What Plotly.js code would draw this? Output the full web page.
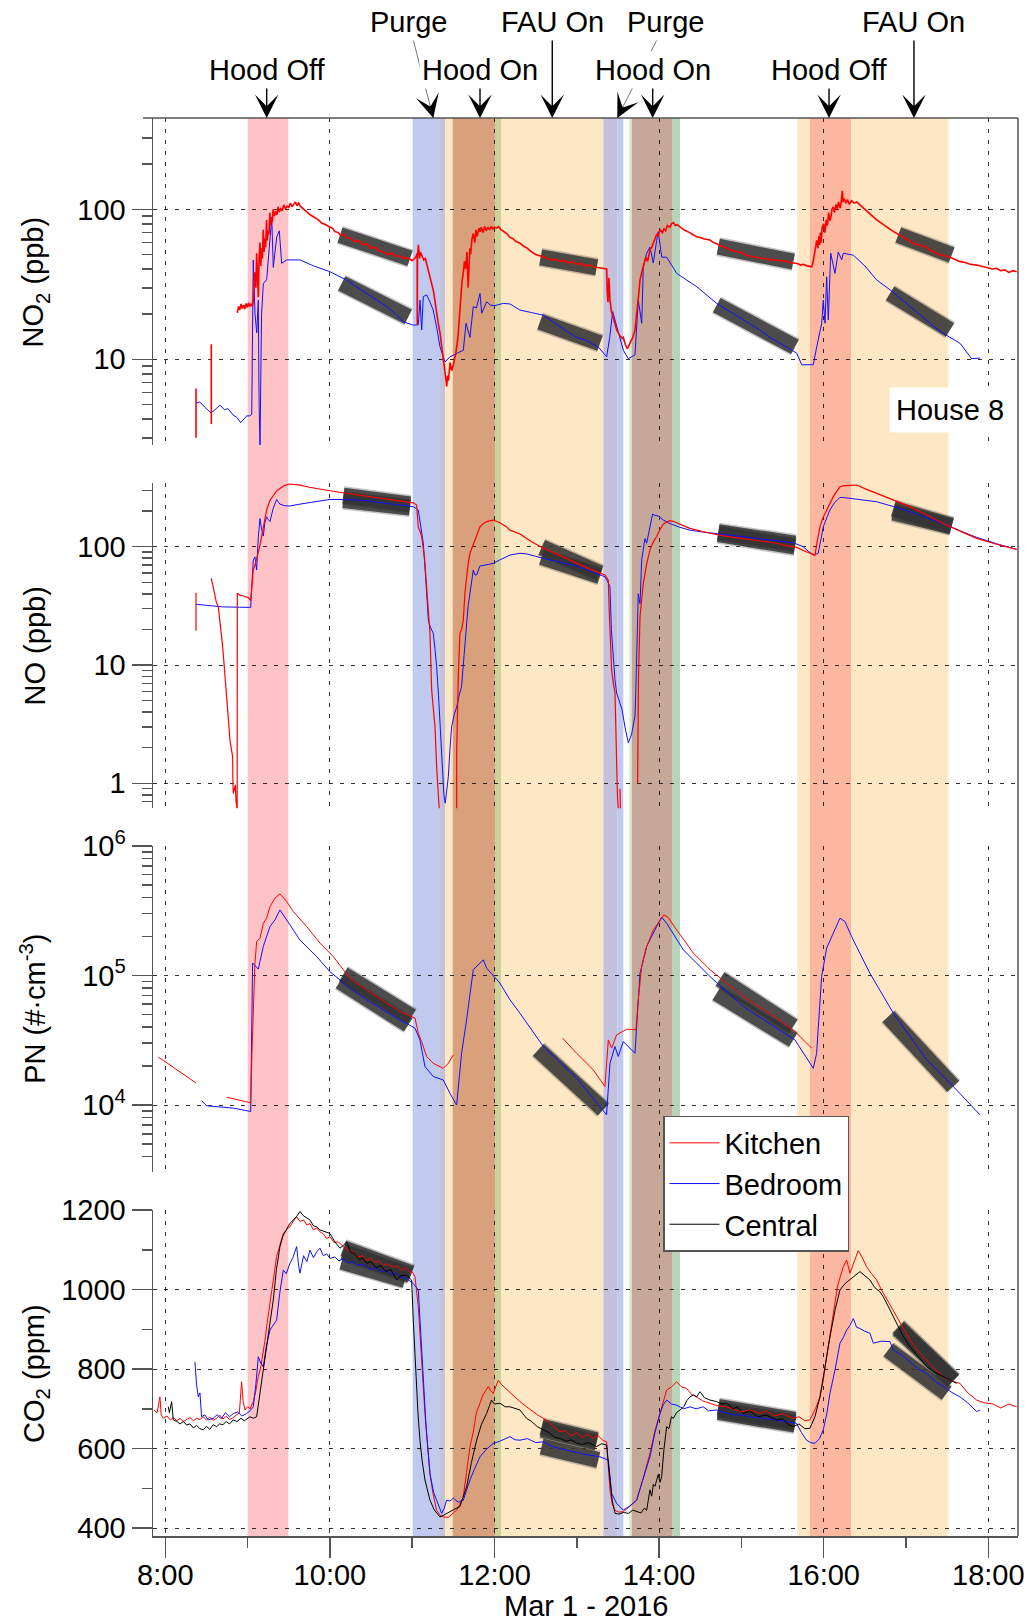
<!DOCTYPE html>
<html>
<head>
<meta charset="utf-8">
<script src="https://cdn.plot.ly/plotly-3.0.1.min.js"></script>
<style>html,body{margin:0;padding:0;background:#fff}#chart{width:1030px;height:1624px}</style>
</head>
<body>
<div id="chart"></div>
<script>
// ---------------- DATA ----------------
// time axis (decimal hours, Mar 1 2016)
const xTickVals = [8, 10, 12, 14, 16, 18];
const xTickText = ['8:00', '10:00', '12:00', '14:00', '16:00', '18:00'];
const xMinorVals = [9, 11, 13, 15, 17];

// y tick labels
const no2TickVals = [10, 100];
const no2TickText = ['10', '100'];
const no2MinorVals = [3,4,5,6,7,8,9,20,30,40,50,60,70,80,90,200,300];
const noTickVals = [1, 10, 100];
const noTickText = ['1', '10', '100'];
const noMinorVals = [0.7,0.8,0.9,2,3,4,5,6,7,8,9,20,30,40,50,60,70,80,90,200,300];
const pnTickVals = [1e4, 1e5, 1e6];
const pnTickText = ['10<sup>4</sup>', '10<sup>5</sup>', '10<sup>6</sup>'];
const pnMinorVals = [4e3,5e3,6e3,7e3,8e3,9e3,2e4,3e4,4e4,5e4,6e4,7e4,8e4,9e4,2e5,3e5,4e5,5e5,6e5,7e5,8e5,9e5];
const co2TickVals = [400, 600, 800, 1000, 1200];
const co2TickText = ['400', '600', '800', '1000', '1200'];
const co2MinorVals = [500, 700, 900, 1100];

// event periods (shaded visible segments)
const bandStart = [9.001, 11.006, 11.338, 11.399, 11.492, 12.006, 12.079, 13.322, 13.497, 13.638, 13.667, 14.165, 15.679, 15.833, 16.332];
const bandEnd   = [9.495, 11.338, 11.399, 11.492, 12.006, 12.079, 13.322, 13.497, 13.565, 13.667, 14.165, 14.254, 15.833, 16.332, 17.514];
const bandColor = ['#fdc3c7', '#c0c9ee', '#c5c1d9', '#fde7c4', '#d8a17c', '#ccd29c', '#fde7c4', '#c3c1db', '#c0caf0', '#d6ead6', '#c6a898', '#b3d7b8', '#fde7c4', '#fcb7a1', '#fde7c4'];

// event labels
const eventLabels = ['Hood Off', 'Purge', 'Hood On', 'FAU On', 'Purge', 'Hood On', 'Hood Off', 'FAU On'];
const eventTimes  = [9.232, 11.256, 11.824, 12.702, 13.492, 13.922, 16.065, 17.097];

// ---- NO2 (ppb)
const no2Kitchen = [[8.373,6.4],[8.373,3.0],[8.374,null],
[8.559,12.6],[8.559,3.7],[8.56,null],
[8.875,20.4],[8.89,22.5],[8.905,21.3],[8.92,23.4],[8.935,21.8],[8.95,23],[8.965,21.6],[8.98,23.6],[8.995,22.2],[9.01,23.8],[9.025,22.4],[9.04,23.5],[9.055,22.6],[9.07,24.5],
[9.085,38],[9.1,30],[9.11,51],[9.12,40],[9.13,26],[9.14,48],[9.15,60],[9.16,42],[9.17,55],[9.18,47],[9.19,73],[9.2,52],[9.21,64],[9.22,56],[9.23,85],[9.24,62],[9.25,72],[9.26,68],[9.27,95],[9.28,78],[9.29,88],[9.3,82],[9.31,100],[9.325,90],[9.34,97],[9.355,92],[9.37,104],[9.385,96],[9.4,101],[9.42,98],[9.44,107],[9.46,101],[9.48,105],[9.5,103],[9.52,110],[9.54,104],[9.56,109],[9.58,112],[9.6,106],[9.62,110],[9.64,105],
[9.67,101],[9.7,98],[9.73,95],[9.76,92],[9.8,89],[9.83,86],[9.86,85],[9.9,81],[9.95,79],[10.0,76],[10.03,75],[10.06,71],[10.1,70],[10.13,67],[10.17,68],[10.2,65],[10.25,64],[10.3,61],[10.35,62],[10.4,58],[10.45,59],[10.5,55],[10.55,56],[10.6,53],[10.65,52],[10.7,50],[10.75,51],[10.8,48.5],[10.85,49],[10.9,47],[10.95,47.5],[11.0,45.5],[11.03,47],[11.05,49],
[11.06,51],[11.062,17],[11.064,48],[11.075,58],[11.09,47],[11.1,52],[11.12,49],[11.14,46],[11.16,47],[11.18,43],[11.2,38],[11.23,33],[11.256,29],[11.28,23],[11.3,20],[11.32,17],[11.338,15],[11.36,12],[11.38,10],[11.4,8.5],[11.41,7.2],[11.42,6.6],[11.43,7.8],[11.44,7.2],[11.46,9.5],[11.48,8.4],[11.5,9.2],[11.53,11],[11.556,14],[11.575,20],[11.59,26],[11.605,33],[11.62,37.6],[11.635,45],[11.65,40],[11.665,52],[11.68,30],[11.69,48],[11.7,55],[11.71,50],[11.725,63],[11.742,69],[11.76,60],[11.775,73],[11.79,66],[11.81,75],[11.824,71],[11.84,76],[11.86,70],[11.88,77],[11.9,72],[11.92,76],[11.94,73],[11.96,77],[11.98,74],[12.0,76],[12.027,75],[12.05,77],[12.08,73],[12.1,72],[12.13,70],[12.16,68],[12.188,65],[12.22,64],[12.26,61],[12.31,59.5],[12.35,57],[12.4,55],[12.45,52],[12.5,50],[12.55,49],[12.6,48],[12.65,47.5],[12.7,46],[12.75,46.5],[12.8,45],[12.85,45.5],[12.9,44],[12.95,44.5],[13.0,43],[13.05,43.5],[13.1,42],[13.15,42.5],[13.2,41.4],[13.25,41],[13.3,40.5],[13.34,40],[13.363,40],[13.37,28],[13.379,24],[13.39,35],[13.403,25],[13.42,21],[13.44,19],[13.46,17],[13.485,15.7],[13.52,14.5],[13.55,13.8],[13.565,14],[13.59,12.5],[13.614,11.8],[13.63,12.2],[13.65,13],[13.68,14],[13.707,15.7],[13.725,19],[13.74,22],[13.755,28],[13.768,33.8],[13.785,38],[13.8,40],[13.82,44],[13.84,48],[13.86,45],[13.889,53.5],[13.91,56],[13.93,60],[13.95,63],[13.97,68],[13.99,66],[14.011,73.5],[14.04,70],[14.06,74],[14.08,72],[14.1,78],[14.13,76],[14.15,80],[14.172,81.5],[14.2,78],[14.22,79],[14.254,76.5],[14.3,73],[14.35,71],[14.4,68],[14.45,66],[14.5,65],[14.55,63.5],[14.618,62.4],[14.66,60],[14.7,59],[14.75,57],[14.8,56],[14.85,54],[14.9,53],[14.95,52],[15.023,51],[15.06,49.5],[15.1,49],[15.15,48.5],[15.2,48],[15.25,47],[15.3,47],[15.35,46],[15.429,45.9],[15.5,45.5],[15.55,45],[15.6,44],[15.672,43.7],[15.72,42.5],[15.75,43],[15.8,42],[15.854,41.4],[15.87,44],[15.88,48],[15.9,55],[15.915,62],[15.93,55],[15.94,66],[15.95,58],[15.96,70],[15.97,60],[15.98,75],[16.0,80],[16.015,70],[16.03,85],[16.045,78],[16.06,95],[16.075,84],[16.09,90],[16.1,100],[16.117,104],[16.13,95],[16.15,108],[16.165,100],[16.18,112],[16.2,102],[16.215,115],[16.226,133],[16.235,112],[16.25,118],[16.27,110],[16.29,116],[16.31,108],[16.34,114],[16.37,110],[16.401,112],[16.45,106],[16.5,100],[16.55,95],[16.6,89],[16.644,85],[16.7,81],[16.75,77],[16.8,74],[16.85,71],[16.887,69],[16.95,66],[17.0,63],[17.05,61],[17.1,59],[17.15,58],[17.2,57],[17.251,56],[17.3,53],[17.35,52],[17.4,50],[17.45,49],[17.5,48.5],[17.535,48],[17.6,46],[17.65,45],[17.7,44.5],[17.78,43],[17.859,42.5],[17.93,41.5],[18.0,41],[18.05,40],[18.1,40.5],[18.15,39],[18.2,39.5],[18.25,38],[18.3,39],[18.345,38.4]];

const no2Bedroom = [[8.373,5.09],[8.42,5.2],[8.48,4.8],[8.555,4.39],[8.6,4.6],[8.665,4.95],[8.72,4.6],[8.76,4.7],[8.823,4.26],[8.87,4.1],[8.916,3.78],[8.95,4.0],[8.989,4.2],[9.029,4.2],[9.05,4.3],[9.069,46],[9.09,20],[9.111,15],[9.13,24.8],[9.14,5],[9.151,2.68],[9.17,20],[9.191,32],[9.232,34],[9.25,46],[9.293,89],[9.312,41],[9.354,65.6],[9.385,72],[9.414,43.7],[9.475,46],[9.637,46],[9.8,42],[10.0,38.4],[10.1,36],[10.204,33.8],[10.3,31],[10.447,27.5],[10.55,25],[10.69,22.5],[10.8,20],[10.892,17.8],[11.013,16.9],[11.074,17],[11.095,24.8],[11.115,15.7],[11.135,26.2],[11.176,26.9],[11.21,24.5],[11.256,21.3],[11.3,16],[11.338,12.1],[11.399,9.6],[11.459,10.4],[11.55,11],[11.621,11.5],[11.654,17.4],[11.702,14],[11.742,22.5],[11.78,22],[11.824,27.5],[11.844,20.3],[11.905,24.2],[11.95,23],[12.0,22.8],[12.107,23.6],[12.188,23.4],[12.31,21.3],[12.45,20.5],[12.593,19.7],[12.796,16.5],[12.999,14],[13.1,13.5],[13.261,12.1],[13.363,10.4],[13.4,14],[13.436,20.8],[13.504,14.9],[13.565,11.5],[13.626,10.1],[13.707,10.7],[13.747,24.8],[13.789,17.4],[13.808,41],[13.849,51],[13.889,56],[13.929,44],[13.971,62],[13.99,70.8],[14.032,48],[14.092,48],[14.214,37.4],[14.457,30.5],[14.7,23.6],[15.023,18.3],[15.2,16],[15.348,14],[15.5,12.5],[15.672,11],[15.733,9.2],[15.874,9.2],[15.915,12.1],[15.976,17.4],[15.995,24.8],[16.016,17.4],[16.036,35.5],[16.056,18.3],[16.085,51],[16.137,37.4],[16.177,52],[16.219,46],[16.238,51],[16.36,49.5],[16.5,42],[16.644,33.8],[16.806,29.1],[17.049,22.5],[17.292,17.4],[17.453,14.9],[17.656,12.8],[17.798,10.1],[17.899,10.2]];

// ---- NO (ppb)
const noKitchen = [[8.373,40.8],[8.373,19.5],[8.374,null],
[8.559,54],[8.58,45],[8.603,36.6],[8.62,34],[8.644,31],[8.67,22],[8.697,14.3],[8.72,9],[8.745,5.8],[8.765,3.6],[8.786,2.3],[8.8,2.0],[8.818,1.68],[8.822,1.0],[8.826,0.82],[8.84,0.9],[8.851,0.97],[8.86,0.7],[8.867,0.6],[8.873,0.6],[8.875,40.4],[8.907,39],[8.94,38.5],[8.988,37.6],[9.01,37],[9.037,35],[9.049,46],[9.069,63.5],[9.09,70],[9.11,82],[9.13,90],[9.15,103],[9.17,120],[9.191,147],[9.21,170],[9.231,204],[9.27,245],[9.312,274],[9.35,295],[9.393,311],[9.45,330],[9.515,339],[9.57,336],[9.636,332],[9.75,318],[9.85,308],[10.001,297],[10.2,283],[10.446,268],[10.7,252],[10.85,243],[11.013,235],[11.054,225],[11.074,147],[11.095,135],[11.115,122],[11.15,80],[11.175,46],[11.2,28],[11.216,18.5],[11.236,6.2],[11.256,4.4],[11.277,3.0],[11.297,1.38],[11.315,0.9],[11.329,0.6],[11.33,null],
[11.54,0.6],[11.541,1.9],[11.56,8],[11.58,18.5],[11.6,20],[11.621,24],[11.64,40],[11.661,59.6],[11.68,72],[11.702,88],[11.72,95],[11.742,107],[11.78,125],[11.823,147],[11.86,156],[11.904,163],[11.95,166],[11.985,168],[12.06,160],[12.147,147],[12.188,138],[12.309,128],[12.45,110],[12.593,97],[12.8,84],[12.998,72.3],[13.15,65],[13.342,57.7],[13.383,52],[13.393,30],[13.403,18.5],[13.413,12],[13.423,9.1],[13.444,7],[13.464,5.8],[13.474,3],[13.484,1.2],[13.494,0.8],[13.504,0.6],[13.505,null],[13.525,0.9],[13.53,0.6],[13.531,null],
[13.739,1.0],[13.75,8],[13.768,25.6],[13.788,38],[13.808,49],[13.85,72],[13.889,94],[13.93,110],[13.97,122],[14.011,140],[14.051,155],[14.09,162],[14.132,166],[14.17,164],[14.213,160],[14.3,150],[14.375,143],[14.5,136],[14.618,130],[14.8,123],[15.023,117.6],[15.2,112],[15.428,107],[15.55,102],[15.671,98.7],[15.75,93],[15.833,88],[15.894,85],[15.92,110],[15.955,147],[15.99,175],[16.036,204],[16.08,235],[16.117,265],[16.16,295],[16.198,321],[16.25,328],[16.3,330],[16.4,332],[16.5,310],[16.643,282],[16.85,248],[17.048,218],[17.25,186],[17.453,157],[17.65,136],[17.858,117.6],[18.1,105],[18.344,95]];

const noBedroom = [[8.373,32.6],[8.5,31.8],[8.697,31],[8.9,30.8],[9.037,30.7],[9.05,45],[9.069,77],[9.089,82],[9.1,70],[9.11,63.5],[9.13,120],[9.15,173],[9.17,140],[9.191,123],[9.21,160],[9.231,179],[9.25,170],[9.272,163],[9.31,210],[9.353,251],[9.37,240],[9.393,229],[9.45,222],[9.515,221],[9.65,230],[9.798,240],[10.001,251],[10.2,250],[10.446,245],[10.7,232],[11.013,218],[11.074,204],[11.1,160],[11.135,107],[11.16,60],[11.196,24],[11.22,21],[11.256,18.5],[11.28,13],[11.297,9.7],[11.32,5.5],[11.337,3.4],[11.355,1.8],[11.37,1.14],[11.385,0.8],[11.402,0.68],[11.42,0.85],[11.439,1.14],[11.46,2],[11.479,3.0],[11.51,3.8],[11.54,4.4],[11.57,5.5],[11.6,6.6],[11.63,12],[11.661,24],[11.68,32],[11.702,40.4],[11.742,63.5],[11.76,58],[11.783,57.7],[11.823,68.7],[11.9,70],[11.985,72.3],[12.06,77],[12.147,82],[12.188,85],[12.309,88],[12.39,87],[12.5,83],[12.593,79.6],[12.8,74],[12.998,68.7],[13.17,62],[13.342,55.7],[13.38,50],[13.403,46],[13.42,20],[13.444,11],[13.464,7.5],[13.484,5.8],[13.525,4.7],[13.55,4.2],[13.585,3.0],[13.626,2.2],[13.666,2.6],[13.707,3.7],[13.717,6],[13.727,11],[13.737,25],[13.747,40],[13.757,36],[13.768,33],[13.788,77],[13.808,100],[13.828,117],[13.849,107],[13.87,125],[13.889,147],[13.905,170],[13.921,189],[13.95,184],[13.99,182],[14.051,168],[14.132,157],[14.25,146],[14.375,138],[14.5,134],[14.618,131],[14.8,127],[15.023,123],[15.3,115],[15.63,108],[15.69,104],[15.752,100],[15.81,92],[15.874,85],[15.934,88],[15.96,110],[15.995,147],[16.036,175],[16.076,204],[16.13,235],[16.198,261],[16.25,260],[16.319,256],[16.45,250],[16.643,240],[16.85,218],[17.048,198],[17.25,176],[17.453,157],[17.65,137],[17.858,120],[18.1,106],[18.344,95]];

// ---- PN (#/cm3)
const pnKitchen = [[7.915,2.34e4],[7.976,2.21e4],[8.373,1.48e4],[8.374,null],
[8.745,1.15e4],[9.037,1.04e4],[9.053,2.51e4],[9.069,4.55e4],[9.089,1.25e5],[9.11,1.83e5],[9.15,1.94e5],[9.191,2.53e5],[9.231,2.77e5],[9.272,3.41e5],[9.333,3.96e5],[9.393,4.27e5],[9.474,3.73e5],[9.555,3.12e5],[9.717,2.39e5],[9.879,1.78e5],[10.041,1.40e5],[10.244,9.5e4],[10.446,7.74e4],[10.851,5.27e4],[11.034,4.69e4],[11.074,3.59e4],[11.115,3.09e4],[11.175,2.37e4],[11.256,2.1e4],[11.378,1.92e4],[11.439,2.1e4],[11.499,2.44e4],[11.5,null],
[12.828,3.28e4],[12.998,2.51e4],[13.2,1.87e4],[13.342,1.39e4],[13.383,3.18e4],[13.423,2.75e4],[13.484,3.48e4],[13.606,3.85e4],[13.719,3.81e4],[13.747,6.49e4],[13.788,1.17e5],[13.849,1.67e5],[13.93,2.25e5],[14.011,2.69e5],[14.059,2.94e5],[14.112,2.8e5],[14.213,2.25e5],[14.416,1.49e5],[14.618,1.11e5],[14.821,8.73e4],[15.023,6.88e4],[15.428,4.69e4],[15.63,3.81e4],[15.853,2.75e4]];

const pnBedroom = [[8.441,1.08e4],[8.502,9.87e3],[8.826,9.46e3],[9.037,8.92e3],[9.061,1.25e5],[9.11,1.14e5],[9.13,1.12e5],[9.191,1.68e5],[9.272,2.39e5],[9.333,2.69e5],[9.393,3.21e5],[9.474,2.69e5],[9.636,1.88e5],[9.839,1.40e5],[10.001,1.07e5],[10.244,7.98e4],[10.446,6.49e4],[10.851,4.55e4],[11.034,3.92e4],[11.094,3.18e4],[11.155,1.98e4],[11.256,1.66e4],[11.378,1.56e4],[11.459,1.23e4],[11.54,1.0e4],[11.6,2.51e4],[11.661,4.55e4],[11.742,1.11e5],[11.864,1.32e5],[11.904,1.14e5],[12.066,8.73e4],[12.188,6.49e4],[12.309,5.12e4],[12.593,2.83e4],[12.998,1.61e4],[13.362,8.4e3],[13.403,2.1e4],[13.464,2.83e4],[13.504,2.37e4],[13.565,3.09e4],[13.707,2.51e4],[13.768,1.04e5],[13.849,1.68e5],[13.97,2.39e5],[14.031,2.82e5],[14.092,2.53e5],[14.294,1.58e5],[14.618,9.82e4],[15.023,5.77e4],[15.651,3.18e4],[15.874,1.92e4],[15.914,2.51e4],[15.975,9.82e4],[16.036,1.63e5],[16.157,2.39e5],[16.198,2.77e5],[16.258,2.61e5],[16.359,1.88e5],[16.562,1.04e5],[16.846,5.12e4],[17.251,2.24e4],[17.575,1.39e4],[17.899,8.4e3]];

// ---- CO2 (ppm)
const co2Kitchen = [[7.862,697],[7.9,690],[7.935,730],[7.95,685],[7.976,676],[8.02,682],[8.06,672],[8.097,678],[8.14,670],[8.18,676],[8.22,668],[8.259,673],[8.3,678],[8.34,670],[8.38,676],[8.421,673],[8.46,680],[8.5,672],[8.54,679],[8.58,671],[8.624,676],[8.66,684],[8.7,674],[8.74,681],[8.78,673],[8.826,678],[8.87,684],[8.9,690],[8.927,768],[8.945,720],[8.968,697],[9.0,705],[9.03,700],[9.069,718],[9.1,745],[9.13,781],[9.16,805],[9.191,839],[9.21,870],[9.231,906],[9.26,950],[9.292,999],[9.32,1040],[9.353,1083],[9.39,1110],[9.434,1141],[9.47,1150],[9.515,1158],[9.55,1170],[9.596,1183],[9.636,1171],[9.68,1175],[9.72,1162],[9.758,1166],[9.8,1150],[9.84,1155],[9.879,1145],[9.92,1140],[9.96,1128],[10.001,1133],[10.05,1118],[10.1,1120],[10.163,1108],[10.22,1100],[10.28,1095],[10.34,1082],[10.4,1085],[10.446,1074],[10.5,1078],[10.55,1068],[10.6,1072],[10.65,1060],[10.7,1065],[10.77,1056],[10.82,1060],[10.87,1048],[10.92,1055],[10.973,1042],[11.0,1045],[11.034,1032],[11.074,957],[11.115,806],[11.155,688],[11.19,600],[11.216,537],[11.25,490],[11.297,445],[11.34,432],[11.378,428],[11.439,427],[11.49,435],[11.54,445],[11.58,460],[11.621,479],[11.66,540],[11.702,604],[11.74,640],[11.78,690],[11.823,714],[11.86,735],[11.924,756],[11.955,745],[11.985,739],[12.02,760],[12.046,772],[12.09,760],[12.14,750],[12.188,741],[12.25,728],[12.309,718],[12.39,705],[12.45,695],[12.52,685],[12.593,676],[12.65,668],[12.72,655],[12.796,642],[12.86,645],[12.93,632],[13.0,640],[13.06,628],[13.13,636],[13.2,626],[13.26,632],[13.32,620],[13.362,617],[13.383,560],[13.403,496],[13.43,460],[13.464,445],[13.51,440],[13.565,441],[13.63,452],[13.727,470],[13.8,520],[13.85,555],[13.889,588],[13.95,645],[14.011,688],[14.05,720],[14.092,747],[14.15,755],[14.213,768],[14.27,755],[14.335,751],[14.4,735],[14.456,730],[14.53,720],[14.618,714],[14.7,708],[14.821,705],[14.9,700],[15.0,692],[15.1,697],[15.226,688],[15.3,695],[15.4,682],[15.5,688],[15.63,676],[15.7,680],[15.77,670],[15.833,672],[15.9,700],[15.955,730],[15.995,772],[16.05,850],[16.117,940],[16.17,1010],[16.238,1057],[16.279,1074],[16.319,1041],[16.37,1070],[16.42,1098],[16.47,1080],[16.522,1057],[16.58,1040],[16.643,1024],[16.7,1000],[16.77,975],[16.846,948],[16.95,910],[17.048,873],[17.15,845],[17.251,823],[17.35,800],[17.453,781],[17.55,770],[17.656,764],[17.75,740],[17.858,722],[17.95,715],[18.061,712],[18.15,702],[18.25,712],[18.344,705]];

const co2Bedroom = [[8.36,818],[8.38,760],[8.401,730],[8.421,740],[8.441,680],[8.48,685],[8.52,672],[8.583,676],[8.63,685],[8.68,675],[8.73,690],[8.78,680],[8.826,688],[8.88,692],[8.93,682],[8.988,688],[9.03,695],[9.069,705],[9.1,760],[9.13,831],[9.16,815],[9.191,806],[9.23,860],[9.272,898],[9.31,910],[9.353,923],[9.39,990],[9.434,1049],[9.47,1040],[9.515,1066],[9.55,1080],[9.596,1108],[9.62,1060],[9.636,1041],[9.68,1085],[9.72,1070],[9.758,1099],[9.8,1080],[9.84,1095],[9.879,1104],[9.92,1085],[9.96,1090],[10.001,1078],[10.06,1082],[10.11,1072],[10.163,1078],[10.22,1066],[10.28,1070],[10.34,1060],[10.4,1064],[10.446,1057],[10.5,1050],[10.56,1055],[10.62,1045],[10.68,1048],[10.75,1038],[10.8,1042],[10.851,1032],[10.93,1028],[11.013,1015],[11.074,999],[11.1,900],[11.135,772],[11.17,650],[11.216,537],[11.26,490],[11.297,470],[11.33,450],[11.358,437],[11.39,450],[11.418,470],[11.46,468],[11.499,475],[11.56,465],[11.621,470],[11.66,495],[11.702,521],[11.76,550],[11.823,579],[11.9,598],[11.985,613],[12.06,618],[12.147,626],[12.188,630],[12.25,622],[12.309,621],[12.4,625],[12.5,615],[12.593,617],[12.7,605],[12.8,600],[12.9,595],[12.998,592],[13.1,585],[13.2,582],[13.282,579],[13.383,571],[13.423,487],[13.484,462],[13.52,455],[13.565,445],[13.64,455],[13.727,470],[13.8,520],[13.889,579],[13.95,640],[14.011,688],[14.05,710],[14.092,722],[14.15,712],[14.213,709],[14.3,700],[14.375,705],[14.45,700],[14.537,705],[14.6,695],[14.699,697],[14.8,690],[14.9,685],[15.023,684],[15.15,678],[15.3,675],[15.428,672],[15.55,668],[15.671,663],[15.73,640],[15.792,621],[15.84,615],[15.894,613],[15.95,625],[15.995,647],[16.04,690],[16.076,739],[16.14,800],[16.198,865],[16.24,880],[16.279,898],[16.32,910],[16.36,927],[16.4,905],[16.44,902],[16.5,895],[16.562,890],[16.603,865],[16.7,870],[16.805,869],[16.846,848],[16.95,835],[17.048,818],[17.15,800],[17.251,789],[17.35,770],[17.453,756],[17.55,742],[17.656,730],[17.75,715],[17.858,693],[17.9,697]];

const co2Central = [[8.036,705],[8.05,690],[8.077,718],[8.097,672],[8.14,668],[8.18,662],[8.22,668],[8.259,659],[8.3,662],[8.34,652],[8.38,658],[8.42,650],[8.462,647],[8.5,656],[8.54,648],[8.583,660],[8.624,655],[8.66,662],[8.7,660],[8.74,668],[8.78,662],[8.826,672],[8.87,668],[8.92,676],[8.96,670],[9.029,680],[9.07,676],[9.11,680],[9.15,739],[9.19,800],[9.231,856],[9.27,920],[9.312,974],[9.35,1050],[9.393,1108],[9.43,1135],[9.474,1150],[9.51,1165],[9.555,1175],[9.6,1185],[9.636,1196],[9.68,1185],[9.72,1180],[9.758,1175],[9.8,1160],[9.84,1158],[9.879,1150],[9.94,1145],[10.001,1141],[10.06,1120],[10.122,1104],[10.16,1110],[10.203,1120],[10.25,1095],[10.3,1090],[10.36,1075],[10.4,1080],[10.446,1066],[10.5,1070],[10.56,1055],[10.62,1060],[10.68,1045],[10.74,1050],[10.811,1024],[10.86,1035],[10.932,1036],[10.993,1024],[11.013,923],[11.046,772],[11.07,690],[11.094,621],[11.12,570],[11.155,521],[11.216,470],[11.27,445],[11.337,428],[11.38,432],[11.418,437],[11.5,446],[11.58,454],[11.62,478],[11.661,504],[11.72,565],[11.783,621],[11.84,660],[11.904,688],[11.964,722],[12.0,712],[12.066,714],[12.13,705],[12.188,705],[12.25,700],[12.309,697],[12.39,676],[12.45,668],[12.52,655],[12.593,647],[12.66,640],[12.73,628],[12.8,625],[12.87,618],[12.93,622],[12.998,613],[13.07,610],[13.14,615],[13.241,605],[13.3,612],[13.362,609],[13.383,565],[13.403,521],[13.43,470],[13.464,437],[13.51,435],[13.565,439],[13.63,437],[13.68,445],[13.727,441],[13.78,438],[13.82,450],[13.849,445],[13.869,470],[13.889,496],[13.91,480],[13.93,510],[13.95,505],[13.97,521],[13.99,535],[14.011,515],[14.031,529],[14.06,600],[14.092,655],[14.12,650],[14.15,680],[14.173,676],[14.21,690],[14.254,697],[14.3,705],[14.335,720],[14.375,730],[14.42,735],[14.456,730],[14.497,743],[14.55,728],[14.618,722],[14.7,718],[14.76,712],[14.821,714],[14.9,700],[14.95,705],[15.023,688],[15.1,695],[15.2,680],[15.3,684],[15.428,672],[15.5,675],[15.57,660],[15.63,655],[15.7,662],[15.77,650],[15.833,651],[15.894,680],[15.955,730],[16.0,790],[16.076,881],[16.14,950],[16.198,999],[16.26,1015],[16.319,1024],[16.38,1035],[16.44,1045],[16.5,1035],[16.562,1024],[16.62,1005],[16.68,995],[16.724,982],[16.8,950],[16.886,915],[16.96,885],[17.048,856],[17.15,830],[17.251,806],[17.35,792],[17.453,781],[17.53,772],[17.615,764]];

// ---- decay fits (start/end points of each fitted segment)
const no2Fits = [
  [[10.123,67.4],[10.974,47.1]], [[10.143,32.1],[10.953,19.2]],
  [[12.561,47.9],[13.242,41.0]], [[12.553,17.8],[13.282,12.8]],
  [[14.719,56.4],[15.631,44.8]], [[14.70,23.0],[15.186,16.1],[15.651,12.1]],
  [[16.906,67.4],[17.555,49.6]], [[16.806,27.5],[17.535,15.7]]
];
const noFits = [
  [[10.163,270],[10.973,228]], [[10.163,248],[10.973,214]],
  [[12.573,98.7],[13.282,59.6]], [[12.573,82],[13.282,56.5]],
  [[14.719,128],[15.651,100]], [[14.719,133],[15.651,106]],
  [[16.846,210],[17.554,150]], [[16.846,195],[17.554,148]]
];
const pnFits = [
  [[10.163,1.02e5],[10.994,4.82e4]], [[10.123,9.0e4],[10.953,4.16e4]],
  [[12.532,2.67e4],[13.322,9.2e3]],
  [[14.74,9.4e4],[15.63,4.04e4]], [[14.70,7.3e4],[15.63,3.18e4]],
  [[16.785,4.82e4],[17.575,1.39e4]]
];
const co2Fits = [
  [[10.163,1104],[10.993,1041]], [[10.163,1095],[10.973,1036]], [[10.143,1070],[10.912,1024]],
  [[12.573,655],[13.241,621]], [[12.573,648],[13.241,615]], [[12.573,605],[13.261,571]],
  [[14.719,705],[15.651,672]], [[14.719,697],[15.651,665]], [[14.719,692],[15.651,660]],
  [[16.906,906],[17.575,772]], [[16.906,900],[17.575,770]], [[16.785,848],[17.494,739]]
];

// ---------------- BUILD ----------------
const RED = '#ff0000', BLUE = '#1010ff', BLACK = '#000000';
const FONT = 'Liberation Sans, Arial, Helvetica, sans-serif';
const traces = [];

function line(pairs, yaxis, color, width, name, legend) {
  return {x: pairs.map(p => p[0]), y: pairs.map(p => p[1]), xaxis: 'x', yaxis: yaxis,
    type: 'scatter', mode: 'lines', line: {color: color, width: width},
    name: name, showlegend: !!legend, hoverinfo: 'skip', connectgaps: false};
}
function fits(list, yaxis) {
  list.forEach(seg => {
    traces.push(line(seg, yaxis, 'rgba(60,60,60,0.30)', 19, '', false));
    traces.push(line(seg, yaxis, 'rgba(50,50,50,0.82)', 16, '', false));
  });
}
fits(no2Fits, 'y'); fits(noFits, 'y2'); fits(pnFits, 'y3'); fits(co2Fits, 'y4');

traces.push(line(no2Bedroom, 'y', BLUE, 1, 'Bedroom'));
traces.push(line(no2Kitchen, 'y', RED, 1.6, 'Kitchen'));
traces.push(line(noBedroom, 'y2', BLUE, 1, 'Bedroom'));
traces.push(line(noKitchen, 'y2', RED, 1.2, 'Kitchen'));
traces.push(line(pnBedroom, 'y3', BLUE, 1, 'Bedroom'));
traces.push(line(pnKitchen, 'y3', RED, 1, 'Kitchen'));
traces.push(line(co2Kitchen, 'y4', RED, 1, 'Kitchen', true));
traces.push(line(co2Bedroom, 'y4', BLUE, 1, 'Bedroom', true));
traces.push(line(co2Central, 'y4', BLACK, 1, 'Central', true));

// shapes: shaded periods + frame
const shapes = bandStart.map((s, i) => ({type: 'rect', xref: 'x', yref: 'paper', x0: s, x1: bandEnd[i],
  y0: 0, y1: 1, fillcolor: bandColor[i], line: {width: 0}, layer: 'below'}));
shapes.push({type: 'line', xref: 'paper', yref: 'paper', x0: -0.0116, x1: 1, y0: 1, y1: 1, line: {color: '#555', width: 1.5}, layer: 'above'});
shapes.push({type: 'line', xref: 'paper', yref: 'paper', x0: 1, x1: 1, y0: 0, y1: 1, line: {color: '#555', width: 1.5}, layer: 'above'});

// annotations
const TF = {family: FONT, size: 29, color: '#000'};
const annotations = [];
// offsets (pixels) of the label text from arrow tip
const evOffsets = [[0,-48],[-24.6,-96],[0,-48],[0,-96],[48.7,-96],[0,-48],[0,-48],[0,-96]];
const order = [1, 4, 0, 3, 6, 7, 2, 5]; // Purge leaders first, "Hood On" boxes last
order.forEach(i => {
  const isPurge = eventLabels[i] === 'Purge';
  const isHoodOn = eventLabels[i] === 'Hood On';
  annotations.push({xref: 'x', yref: 'paper', x: eventTimes[i], y: 1, text: eventLabels[i],
    showarrow: true, axref: 'pixel', ayref: 'pixel', ax: evOffsets[i][0], ay: evOffsets[i][1],
    arrowhead: isPurge ? 0 : 3, arrowsize: 2.8, arrowwidth: isPurge ? 1 : 1.4,
    arrowcolor: isPurge ? '#777' : '#000', font: TF,
    bgcolor: isHoodOn ? '#ffffff' : 'rgba(0,0,0,0)', borderpad: 2});
  if (isPurge) {
    const k = 14 / Math.abs(evOffsets[i][1]);
    annotations.push({xref: 'x', yref: 'paper', x: eventTimes[i], y: 1, text: ' ',
      showarrow: true, axref: 'pixel', ayref: 'pixel', ax: evOffsets[i][0] * k, ay: evOffsets[i][1] * k,
      arrowhead: 3, arrowsize: 2.8, arrowwidth: 1.4, arrowcolor: '#000', font: {size: 4}});
  }
});
annotations.push({xref: 'paper', yref: 'paper', x: 0.9214, y: 0.794, text: 'House 8', showarrow: false,
  font: TF, bgcolor: '#ffffff', borderpad: 6, xanchor: 'center', yanchor: 'middle'});
// axis titles
const ytitles = [['NO<sub>2</sub> (ppb)', 0.8847, -0.1353], ['NO (ppb)', 0.628, -0.1353],
  ['PN (#·cm<sup>-3</sup>)', 0.3718, -0.1387], ['CO<sub>2</sub> (ppm)', 0.115, -0.1353]];
ytitles.forEach(t => annotations.push({xref: 'paper', yref: 'paper', x: t[2], y: t[1], text: t[0],
  textangle: -90, showarrow: false, font: TF, xanchor: 'center', yanchor: 'middle'}));
annotations.push({xref: 'paper', yref: 'paper', x: 0.5, y: -0.0495, text: 'Mar 1 - 2016', showarrow: false,
  font: TF, xanchor: 'center', yanchor: 'middle'});

const GRID = {showgrid: true, gridcolor: 'rgba(0,0,0,0.8)', gridwidth: 1, griddash: '4px,7px'};
function yax(domain, type, range, tv, tt, mv) {
  return Object.assign({domain: domain, type: type, range: range, autorange: false, anchor: 'x',
    tickmode: 'array', tickvals: tv, ticktext: tt, ticks: 'outside', ticklen: 20, tickwidth: 1.5,
    tickcolor: '#555', showline: true, linecolor: '#555', linewidth: 1.5, zeroline: false,
    tickfont: TF, fixedrange: true,
    minor: {tickmode: 'array', tickvals: mv, ticks: 'outside', ticklen: 10, tickwidth: 1.5, tickcolor: '#555', showgrid: false}}, GRID);
}

const layout = {
  width: 1030, height: 1624,
  margin: {l: 153, r: 12, t: 118, b: 88},
  paper_bgcolor: '#ffffff', plot_bgcolor: 'rgba(0,0,0,0)',
  font: {family: FONT, size: 29, color: '#000'},
  showlegend: true,
  legend: {x: 0.5896, y: 0.2962, xanchor: 'left', yanchor: 'top', bgcolor: '#ffffff',
    bordercolor: '#555', borderwidth: 1.5, font: TF, traceorder: 'normal', itemwidth: 50},
  xaxis: Object.assign({range: [7.8505, 18.361], autorange: false, anchor: 'y4', tickmode: 'array',
    tickvals: xTickVals, ticktext: xTickText, ticks: 'outside', ticklen: 20, tickwidth: 1.5, tickcolor: '#555',
    showline: true, linecolor: '#555', linewidth: 1.5, zeroline: false, tickfont: TF, fixedrange: true,
    ticklabelstandoff: -7,
    minor: {tickmode: 'array', tickvals: xMinorVals, ticks: 'outside', ticklen: 10, tickwidth: 1.5, tickcolor: '#555', showgrid: false}}, GRID),
  yaxis: yax([0.7694, 1], 'log', [0.429, 2.609], no2TickVals, no2TickText, no2MinorVals),
  yaxis2: yax([0.5132, 0.7428], 'log', [-0.211, 2.541], noTickVals, noTickText, noMinorVals),
  yaxis3: yax([0.2569, 0.4866], 'log', [3.485, 6.0], pnTickVals, pnTickText, pnMinorVals),
  yaxis4: yax([0, 0.2299], 'linear', [380, 1200], co2TickVals, co2TickText, co2MinorVals),
  shapes: shapes,
  annotations: annotations
};

Plotly.newPlot('chart', traces, layout, {displayModeBar: false, staticPlot: true});
</script>
</body>
</html>
